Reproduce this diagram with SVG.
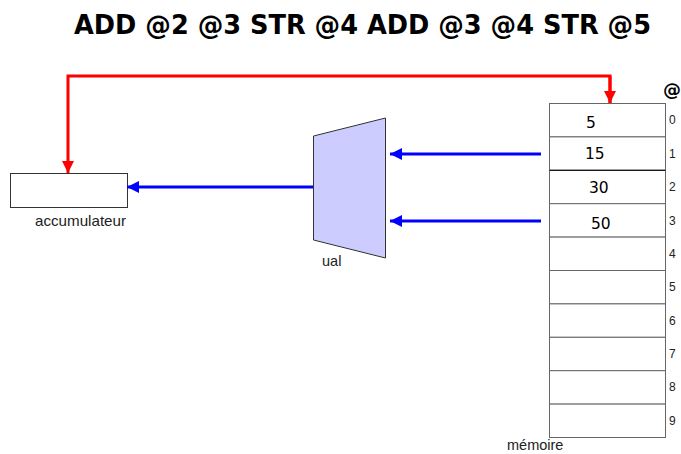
<svg xmlns="http://www.w3.org/2000/svg" width="681" height="454" viewBox="0 0 681 454">
  <defs>
    <marker id="ah-red" viewBox="0 0 10 10" refX="10" refY="5" markerWidth="4" markerHeight="4" markerUnits="strokeWidth" orient="auto">
      <path d="M0,0 L10,5 L0,10 z" fill="#ff0000"/>
    </marker>
    <marker id="ah-blue" viewBox="0 0 10 10" refX="10" refY="5" markerWidth="4" markerHeight="4" markerUnits="strokeWidth" orient="auto">
      <path d="M0,0 L10,5 L0,10 z" fill="#0000ff"/>
    </marker>
  </defs>
  <style>
    .title { font-family: "DejaVu Sans", "Liberation Sans", sans-serif; font-weight: bold; font-size: 27px; fill: #000; }
    .lbl { font-family: "Liberation Sans", Arial, sans-serif; font-size: 14.5px; fill: #222; }
    .val { font-family: "DejaVu Sans", sans-serif; font-size: 15.5px; fill: #000; }
    .idx { font-family: "Liberation Sans", Arial, sans-serif; font-size: 12px; fill: #222; }
    .cell { fill: #fff; stroke: #666; stroke-width: 1; }
    .red { fill: none; stroke: #ff0000; stroke-width: 3; }
    .blue { fill: none; stroke: #0000ff; stroke-width: 3; }
  </style>
  <rect width="681" height="454" fill="#fff"/>

  <text class="title" x="74" y="34" textLength="577" lengthAdjust="spacingAndGlyphs">ADD @2 @3 STR @4 ADD @3 @4 STR @5</text>

  <g id="accumulateur">
    <rect x="10.5" y="173.5" width="117" height="34" fill="#fff" stroke="#333" stroke-width="1"/>
    <text class="lbl" x="35" y="226" textLength="91" lengthAdjust="spacingAndGlyphs">accumulateur</text>
  </g>

  <g id="ual">
    <polygon points="313.5,136 385.5,118 385.5,258 313.5,240" fill="#ccccff" stroke="#333" stroke-width="1"/>
    <text class="lbl" x="322" y="266">ual</text>
  </g>

  <g id="memoire">
    <rect class="cell" x="549.5" y="103.5" width="116" height="33.4"/>
    <rect class="cell" x="549.5" y="136.9" width="116" height="33.4"/>
    <rect class="cell" x="549.5" y="170.3" width="116" height="33.4"/>
    <rect class="cell" x="549.5" y="203.7" width="116" height="33.4"/>
    <rect class="cell" x="549.5" y="237.1" width="116" height="33.4"/>
    <rect class="cell" x="549.5" y="270.5" width="116" height="33.4"/>
    <rect class="cell" x="549.5" y="303.9" width="116" height="33.4"/>
    <rect class="cell" x="549.5" y="337.3" width="116" height="33.4"/>
    <rect class="cell" x="549.5" y="370.7" width="116" height="33.4"/>
    <rect class="cell" x="549.5" y="404.1" width="116" height="33.4"/>
    <line x1="549.5" y1="170.3" x2="665.5" y2="170.3" stroke="#000" stroke-width="1"/>
    <text class="val" x="586" y="128">5</text>
    <text class="val" x="585" y="159">15</text>
    <text class="val" x="589" y="193">30</text>
    <text class="val" x="591" y="229">50</text>
    <text class="idx" x="669" y="124">0</text>
    <text class="idx" x="669" y="158">1</text>
    <text class="idx" x="669" y="191">2</text>
    <text class="idx" x="669" y="225">3</text>
    <text class="idx" x="669" y="258">4</text>
    <text class="idx" x="669" y="291">5</text>
    <text class="idx" x="669" y="325">6</text>
    <text class="idx" x="669" y="358">7</text>
    <text class="idx" x="669" y="391">8</text>
    <text class="idx" x="669" y="425">9</text>
    <text x="663" y="96" font-family="DejaVu Sans, sans-serif" font-weight="bold" font-size="18" fill="#000">@</text>
    <text class="lbl" x="507" y="450">mémoire</text>
  </g>

  <g id="connecteurs">
    <polyline class="red" points="610,103 610,76 68,76 68,173" marker-end="url(#ah-red)"/>
    <line class="red" x1="610" y1="76" x2="610" y2="103" marker-end="url(#ah-red)"/>
    <line class="blue" x1="541" y1="154" x2="390" y2="154" marker-end="url(#ah-blue)"/>
    <line class="blue" x1="541" y1="221" x2="390" y2="221" marker-end="url(#ah-blue)"/>
    <line class="blue" x1="313" y1="187" x2="127" y2="187" marker-end="url(#ah-blue)"/>
  </g>
</svg>
